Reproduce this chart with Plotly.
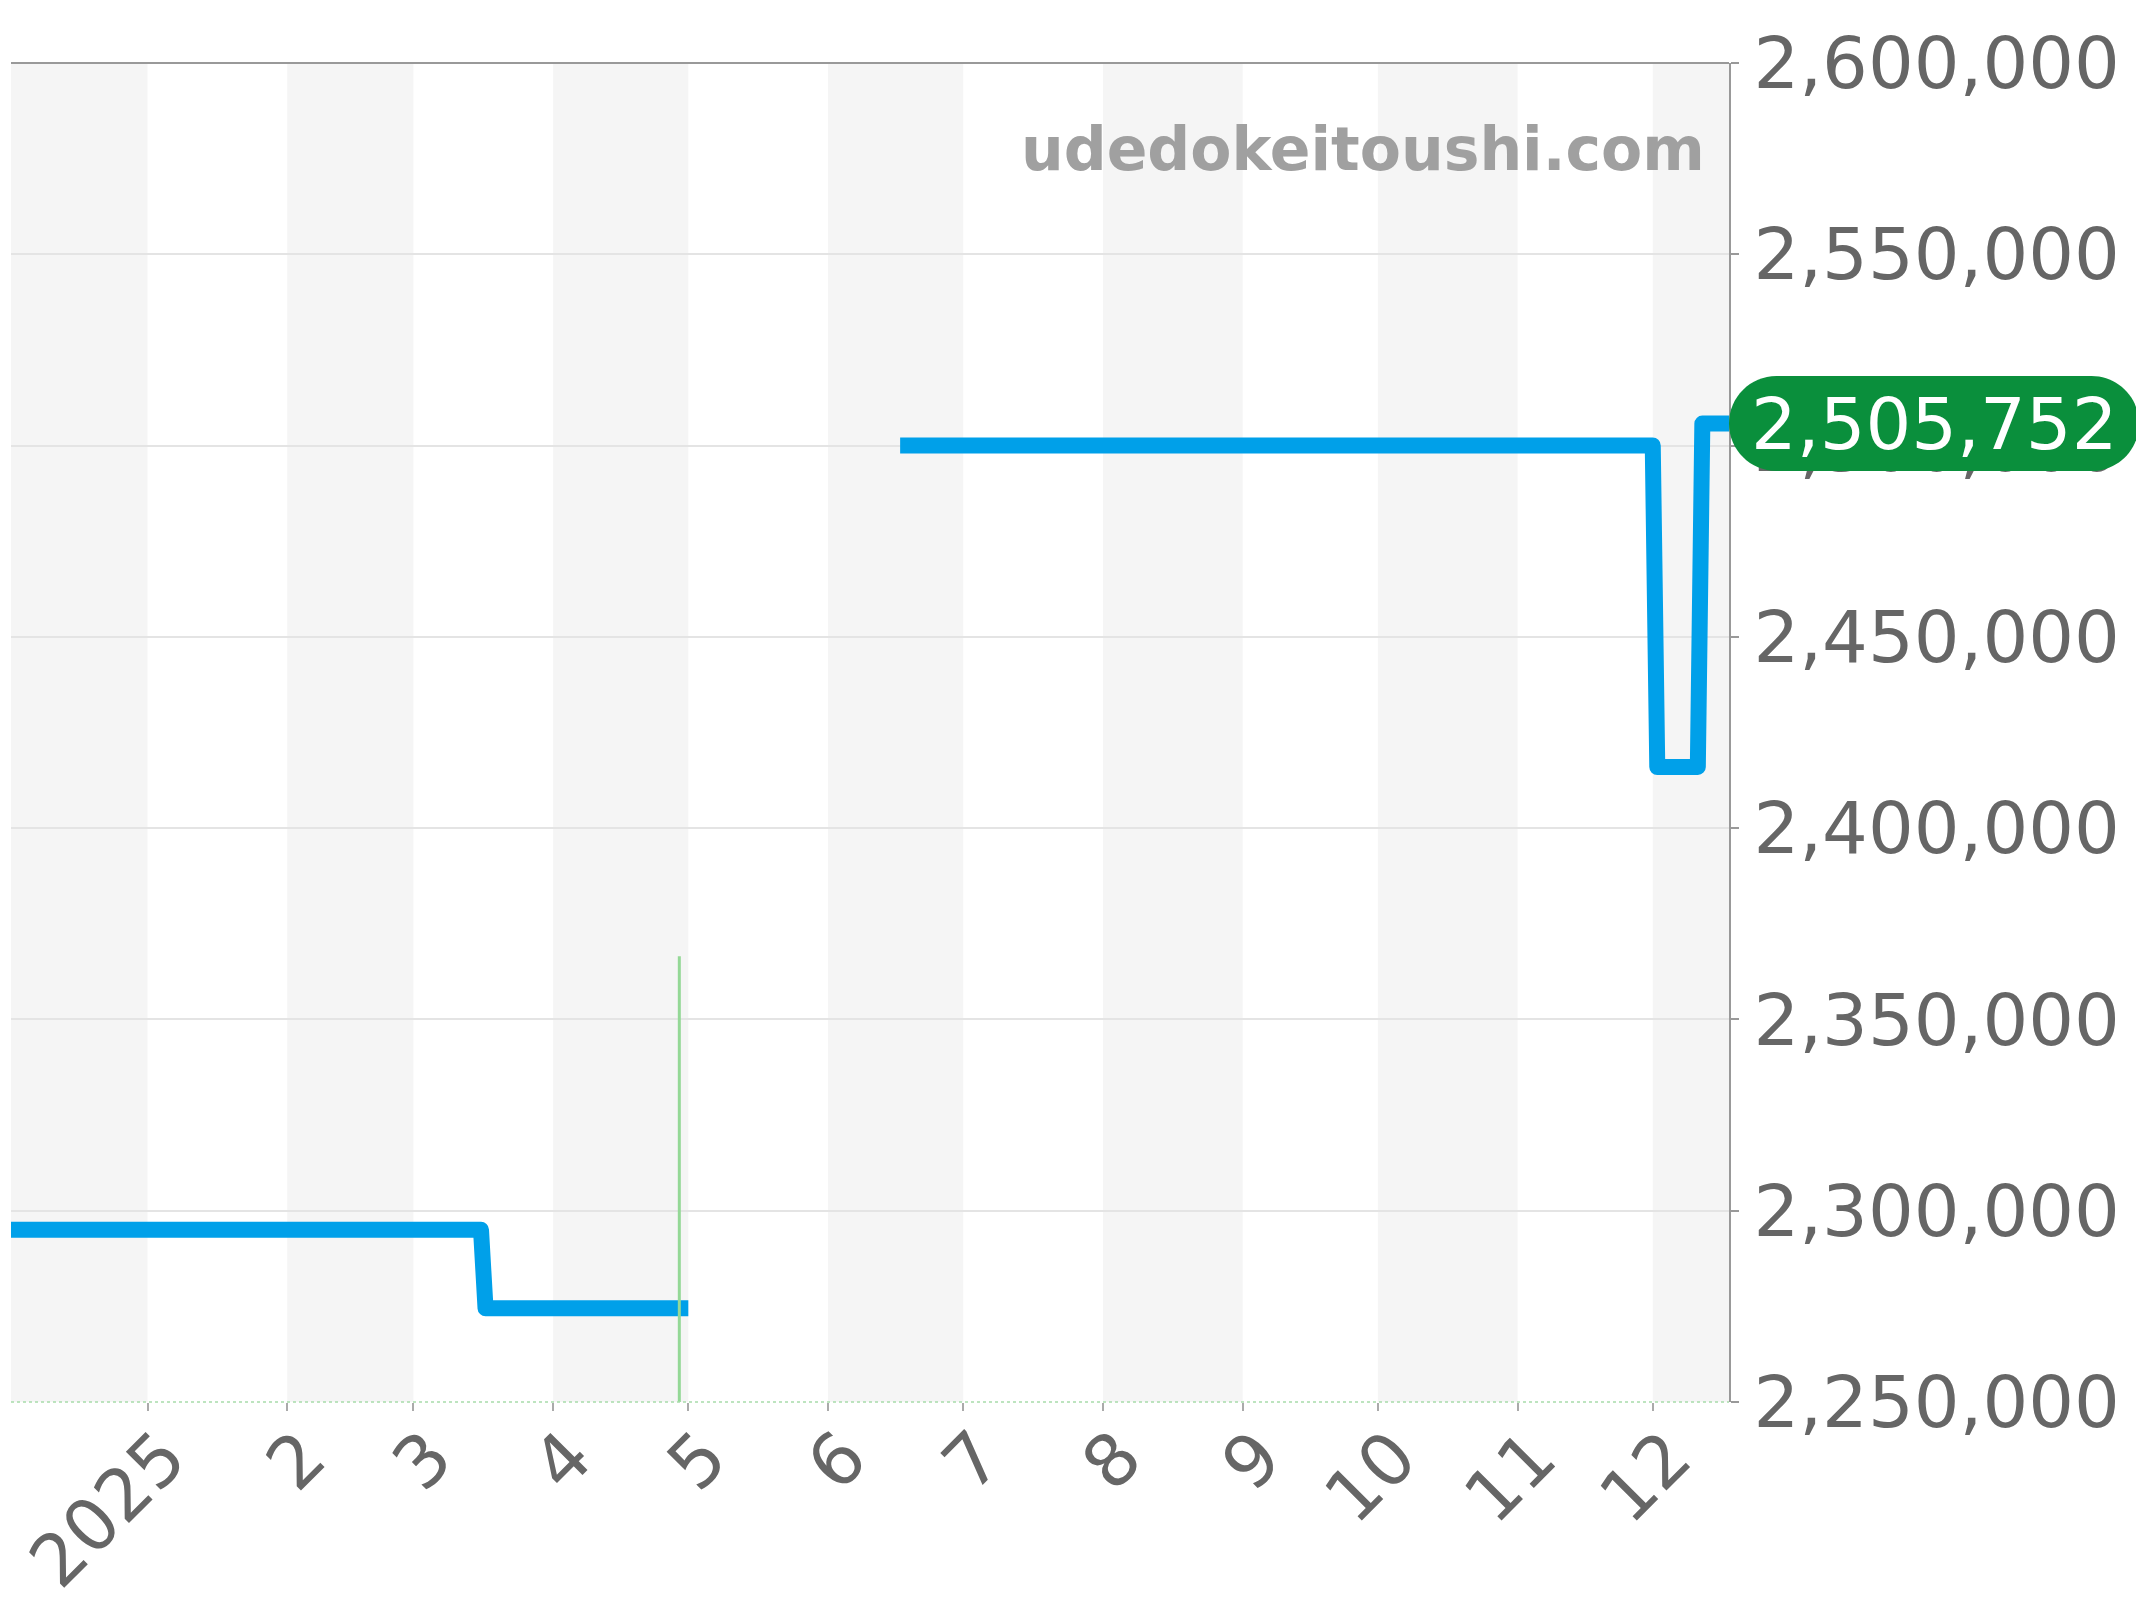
import pandas as pd
import plotly.graph_objects as go

# ------------------------------------------------------------------
# Data
# ------------------------------------------------------------------
PRICE_DATES  = ['2024-12-01', '2025-03-16', '2025-03-17', '2025-05-01', None,
                '2025-06-17', '2025-12-01', '2025-12-02', '2025-12-11', '2025-12-12', '2025-12-18']
PRICE_VALUES = [2295000, 2295000, 2274500, 2274500, None,
                2500000, 2500000, 2416000, 2416000, 2505752, 2505752]

MARK_DATE   = '2025-04-29'
MARK_VALUE  = 2366500

LAST_PRICE  = 2505752

TICK_DATES  = ['2025-01-01', '2025-02-01', '2025-03-01', '2025-04-01', '2025-05-01', '2025-06-01',
               '2025-07-01', '2025-08-01', '2025-09-01', '2025-10-01', '2025-11-01', '2025-12-01']
TICK_LABELS = ['2025', '2', '3', '4', '5', '6', '7', '8', '9', '10', '11', '12']

X_RANGE = ['2024-12-01 17:00', '2025-12-17 22:00']
Y_RANGE = [2250000, 2600000]

FONT      = 'DejaVu Sans'
BLUE      = '#00a0e9'
GREEN     = '#0a8f3c'
TICK_GRAY = '#666666'

fig = go.Figure()

# price line
fig.add_trace(go.Scatter(x=PRICE_DATES, y=PRICE_VALUES, mode='lines',
                         line=dict(color=BLUE, width=16), connectgaps=False,
                         hoverinfo='skip', showlegend=False))

# thin green marker line
fig.add_trace(go.Scatter(x=[MARK_DATE, MARK_DATE], y=[Y_RANGE[0], MARK_VALUE], mode='lines',
                         line=dict(color='#94d896', width=3),
                         hoverinfo='skip', showlegend=False))

# alternating month bands
shapes = []
months = pd.date_range('2024-12-01', '2026-01-01', freq='MS')
for i in range(len(months) - 1):
    if i % 2 == 0:
        shapes.append(dict(type='rect', xref='x', yref='paper',
                           x0=months[i], x1=months[i + 1], y0=0, y1=1,
                           fillcolor='#f5f5f5', line=dict(width=0), layer='below'))

# top border and dotted baseline
shapes.append(dict(type='line', xref='paper', yref='paper', x0=0, x1=1, y0=1, y1=1,
                   line=dict(color='#999999', width=2)))
shapes.append(dict(type='line', xref='paper', yref='paper', x0=0, x1=1, y0=0, y1=0,
                   line=dict(color='#a8dcaa', width=1.5, dash='dot')))

# rounded pill behind the last price
r, w = 47.5, 410
c = 0.5523 * r
pill = (f'M {r},{r} L {w - r},{r} C {w - r + c},{r} {w},{c} {w},0 '
        f'C {w},{-c} {w - r + c},{-r} {w - r},{-r} L {r},{-r} '
        f'C {r - c},{-r} 0,{-c} 0,0 C 0,{c} {r - c},{r} {r},{r} Z')
last_frac = (LAST_PRICE - Y_RANGE[0]) / (Y_RANGE[1] - Y_RANGE[0])
shapes.append(dict(type='path', path=pill, xref='paper', yref='paper',
                   xsizemode='pixel', ysizemode='pixel', xanchor=1, yanchor=last_frac,
                   fillcolor=GREEN, line=dict(width=0), layer='above'))

annotations = [
    dict(text=f'{LAST_PRICE:,}', xref='paper', yref='y', x=1, y=LAST_PRICE,
         xanchor='center', yanchor='middle', xshift=w / 2, showarrow=False,
         font=dict(family=FONT, size=72, color='white')),
    dict(text='<b>udedokeitoushi.com</b>', xref='paper', yref='paper', x=1, y=1,
         xanchor='right', yanchor='top', xshift=-22, yshift=-49, showarrow=False,
         font=dict(family=FONT, size=60, color='#a0a0a0')),
]

# the page body adds an 8px offset, so margins are trimmed on the left/top
fig.update_layout(
    width=2144, height=1600,
    margin=dict(l=3, r=423, t=55, b=206),
    paper_bgcolor='white', plot_bgcolor='white',
    shapes=shapes, annotations=annotations,
    xaxis=dict(type='date', range=X_RANGE, tickvals=TICK_DATES, ticktext=TICK_LABELS,
               tickangle=-45, ticks='outside', ticklen=8, tickcolor='#aaaaaa', tickwidth=2,
               ticklabeloverflow='allow', ticklabelstandoff=-25, ticklabelshift=17,
               showgrid=False, showline=False, zeroline=False, automargin=False,
               tickfont=dict(family=FONT, size=72, color=TICK_GRAY)),
    yaxis=dict(side='right', range=Y_RANGE, dtick=50000, tickformat=',',
               ticks='outside', ticklen=8, tickcolor='#999999', tickwidth=2,
               showline=True, linecolor='#999999', linewidth=2, automargin=False,
               showgrid=True, gridcolor='#e4e4e4', gridwidth=1.5, zeroline=False,
               tickfont=dict(family=FONT, size=72, color=TICK_GRAY)),
)

# rounded corners on the price line, as in the reference
round_joins = ("document.querySelectorAll('.scatterlayer .js-line')"
               ".forEach(function(p){p.style.strokeLinejoin='round';});")

fig.write_html('out.html', post_script=round_joins)
